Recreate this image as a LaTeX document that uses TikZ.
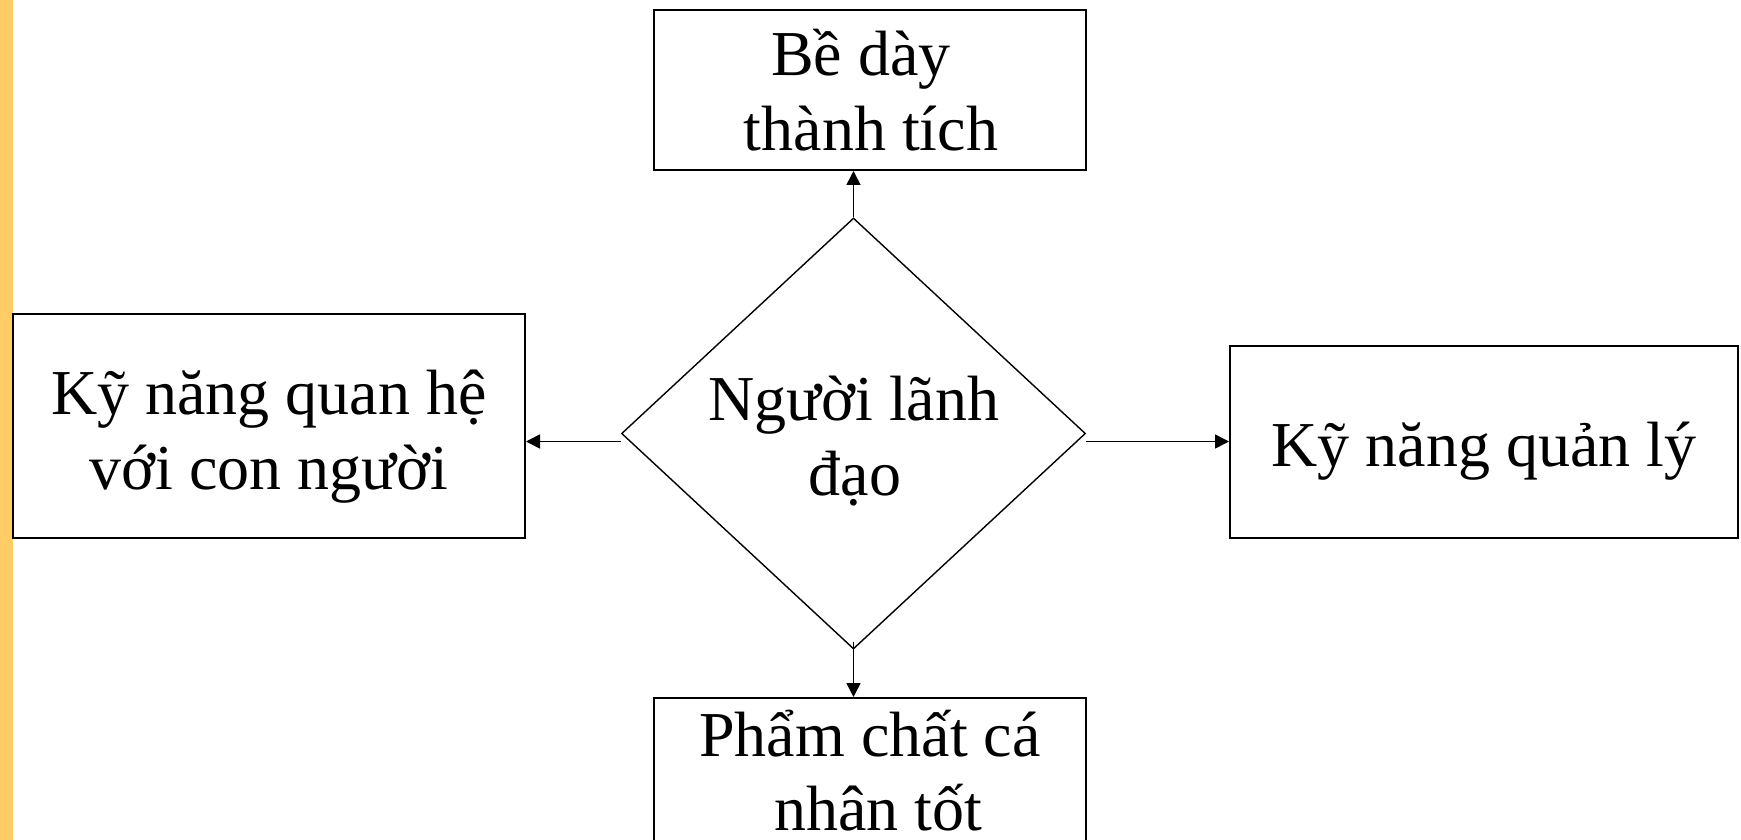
\documentclass[tikz,border=0pt]{standalone}
\usepackage{fontspec}
\setmainfont{Liberation Serif}
\usetikzlibrary{shapes.geometric,arrows.meta}
\definecolor{barorange}{HTML}{FFCC66}
\tikzset{
  box/.style={draw, line width=1pt, inner sep=0pt, rectangle},
  dia/.style={draw, line width=0.7pt, diamond, inner sep=0pt},
  txt/.style={inner sep=0pt, anchor=base, font=\fontsize{32}{37}\selectfont},
  arr/.style={line width=0.8pt, -{Triangle[length=7pt,width=7pt]}}
}
\begin{document}
\begin{tikzpicture}[x=0.5pt,y=-0.5pt]
\useasboundingbox (0,0) rectangle (1741,840);
\clip (0,0) rectangle (1741,840);
\fill[barorange] (0,0) rectangle (13,840);
% boxes
\node[box, minimum width=216pt, minimum height=80pt] (top) at (870,90) {};
\node[box, minimum width=256pt, minimum height=112pt] (left) at (269,426) {};
\node[box, minimum width=254pt, minimum height=96pt] (right) at (1484,442) {};
\node[box, minimum width=216pt, minimum height=101pt] (bot) at (870,799) {};
\node[dia, minimum width=232pt, minimum height=215.5pt] (d) at (853.5,433.5) {};
% texts
\node[txt] (t1) at (861,76) {Bề dày};
\node[txt] (t2) at (871,150) {thành tích};
\node[txt] (l1) at (269,414) {Kỹ năng quan hệ};
\node[txt] (l2) at (269,489) {với con người};
\node[txt] (d1) at (854,420) {Người lãnh};
\node[txt] (d2) at (855,495) {đạo};
\node[txt] (r1) at (1484,466) {Kỹ năng quản lý};
\node[txt] (b1) at (870,756) {Phẩm chất cá};
\node[txt] (b2) at (878,830) {nhân tốt};
% connectors
\draw[arr] (d.north) -- (d.north |- top.south);
\draw[arr] ([yshift=4pt]d.south) -- (d.south |- bot.north);
\draw[arr] ([yshift=-4pt]d.west) -- ([yshift=-4pt]d.west -| left.east);
\draw[arr] ([yshift=-4pt]d.east) -- ([yshift=-4pt]d.east -| right.west);
\end{tikzpicture}
\end{document}
